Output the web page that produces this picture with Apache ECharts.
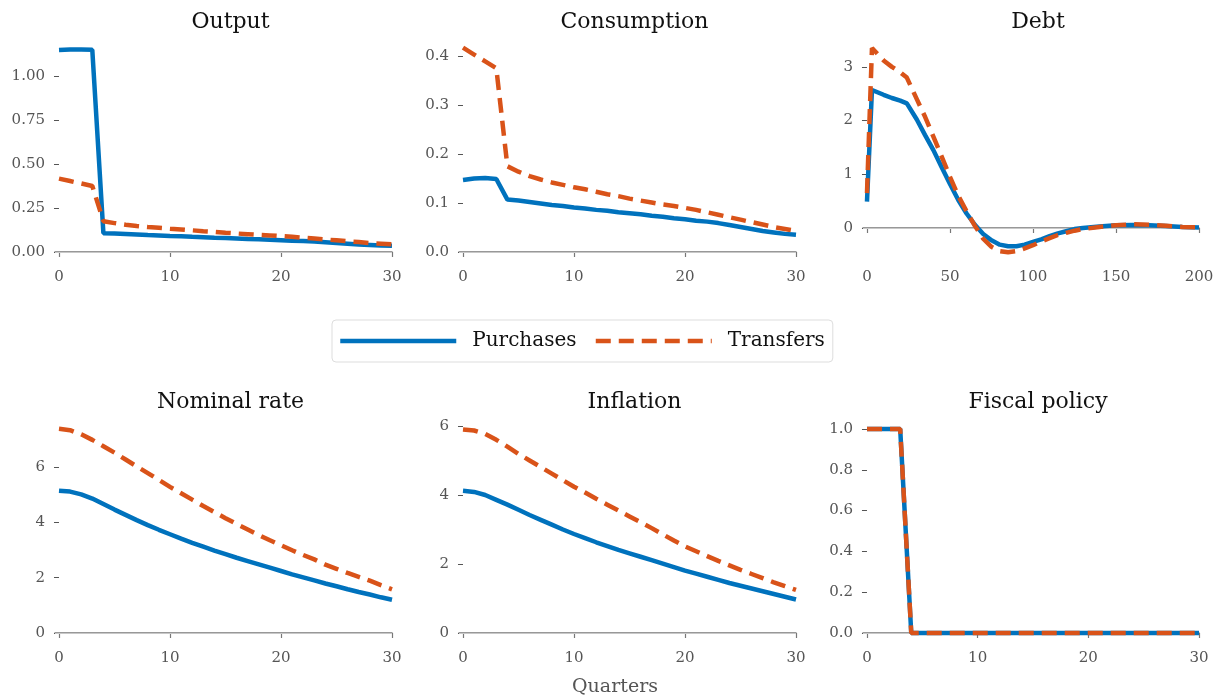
<!DOCTYPE html>
<html>
<head>
<meta charset="utf-8">
<title>Fiscal policy responses</title>
<script src="https://cdn.jsdelivr.net/npm/echarts@6/dist/echarts.min.js"></script>
<style>
  html, body { margin: 0; padding: 0; background: #fff; }
  #chart { width: 1220px; height: 697px; }
</style>
</head>
<body>
<div id="chart"></div>
<script>
// quarters on the short panels
const quarters = [0, 1, 2, 3, 4, 5, 6, 7, 8, 9, 10, 11, 12, 13, 14, 15,
  16, 17, 18, 19, 20, 21, 22, 23, 24, 25, 26, 27, 28, 29, 30];
// quarters used for the debt panel (long horizon)
const debtQuarters = [0, 3, 10, 15, 20, 24, 30, 35, 40, 45, 50, 55, 60, 65, 70, 75,
  80, 85, 90, 95, 100, 105, 110, 115, 120, 125, 130, 140, 150, 160, 170, 180, 190, 200];

const outputPurchases = [1.147, 1.150, 1.151, 1.149, 0.107, 0.105, 0.102, 0.099, 0.096, 0.094,
  0.091, 0.089, 0.086, 0.084, 0.081, 0.079, 0.077, 0.074, 0.072, 0.069,
  0.067, 0.064, 0.062, 0.059, 0.055, 0.051, 0.047, 0.043, 0.040, 0.037, 0.035];
const outputTransfers = [0.417, 0.403, 0.389, 0.375, 0.175, 0.164, 0.155, 0.148, 0.142, 0.137,
  0.132, 0.128, 0.123, 0.118, 0.114, 0.109, 0.105, 0.101, 0.097, 0.094,
  0.090, 0.086, 0.081, 0.076, 0.071, 0.066, 0.061, 0.056, 0.051, 0.047, 0.043];

const consPurchases = [0.147, 0.150, 0.151, 0.149, 0.107, 0.105, 0.102, 0.099, 0.096, 0.094,
  0.091, 0.089, 0.086, 0.084, 0.081, 0.079, 0.077, 0.074, 0.072, 0.069,
  0.067, 0.064, 0.062, 0.059, 0.055, 0.051, 0.047, 0.043, 0.040, 0.037, 0.035];
const consTransfers = [0.417, 0.403, 0.389, 0.375, 0.175, 0.164, 0.155, 0.148, 0.142, 0.137,
  0.132, 0.128, 0.123, 0.118, 0.114, 0.109, 0.105, 0.101, 0.097, 0.094,
  0.090, 0.086, 0.081, 0.076, 0.071, 0.066, 0.061, 0.056, 0.051, 0.047, 0.043];

const debtPurchases = [0.49, 2.57, 2.48, 2.42, 2.37, 2.32, 2.02, 1.73, 1.45, 1.13, 0.82, 0.52,
  0.27, 0.06, -0.11, -0.23, -0.31, -0.34, -0.34, -0.31, -0.26, -0.21, -0.15, -0.10,
  -0.06, -0.02, 0.00, 0.03, 0.05, 0.055, 0.05, 0.035, 0.02, 0.01];
const debtTransfers = [0.65, 3.35, 3.12, 3.00, 2.90, 2.80, 2.40, 2.07, 1.70, 1.33, 0.95, 0.60,
  0.31, 0.04, -0.20, -0.35, -0.43, -0.45, -0.43, -0.38, -0.32, -0.25, -0.19, -0.13,
  -0.09, -0.05, -0.02, 0.02, 0.05, 0.07, 0.06, 0.04, 0.02, 0.01];

const nominalPurchases = [5.14, 5.11, 5.01, 4.86, 4.66, 4.46, 4.27, 4.08, 3.90, 3.73,
  3.57, 3.41, 3.26, 3.12, 2.98, 2.85, 2.72, 2.60, 2.48, 2.36,
  2.24, 2.12, 2.01, 1.90, 1.79, 1.69, 1.58, 1.48, 1.39, 1.29, 1.20];
const nominalTransfers = [7.38, 7.33, 7.18, 6.98, 6.75, 6.52, 6.27, 6.02, 5.78, 5.53,
  5.28, 5.05, 4.82, 4.59, 4.37, 4.15, 3.94, 3.74, 3.54, 3.35,
  3.17, 2.99, 2.82, 2.66, 2.47, 2.32, 2.17, 2.03, 1.89, 1.73, 1.58];

const inflationPurchases = [4.12, 4.09, 4.00, 3.86, 3.72, 3.57, 3.42, 3.28, 3.14, 3.00,
  2.87, 2.75, 2.63, 2.52, 2.41, 2.31, 2.21, 2.11, 2.01, 1.91,
  1.81, 1.72, 1.63, 1.54, 1.45, 1.37, 1.29, 1.21, 1.13, 1.05, 0.97];
const inflationTransfers = [5.90, 5.87, 5.77, 5.60, 5.40, 5.19, 5.00, 4.81, 4.62, 4.43,
  4.24, 4.07, 3.89, 3.72, 3.55, 3.38, 3.21, 3.04, 2.86, 2.68,
  2.51, 2.37, 2.23, 2.09, 1.96, 1.83, 1.71, 1.59, 1.47, 1.36, 1.25];

const fiscalPurchases = [1, 1, 1, 1, 0, 0, 0, 0, 0, 0, 0, 0, 0, 0, 0, 0,
  0, 0, 0, 0, 0, 0, 0, 0, 0, 0, 0, 0, 0, 0, 0];
const fiscalTransfers = [1, 1, 1, 1, 0, 0, 0, 0, 0, 0, 0, 0, 0, 0, 0, 0,
  0, 0, 0, 0, 0, 0, 0, 0, 0, 0, 0, 0, 0, 0, 0];

// tick labels
const xTicksShort = [0, 10, 20, 30];
const xTicksDebt = [0, 50, 100, 150, 200];
const outputTicks = [0, 0.25, 0.5, 0.75, 1.0];
const consTicks = [0, 0.1, 0.2, 0.3, 0.4];
const debtTicks = [0, 1, 2, 3];
const nominalTicks = [0, 2, 4, 6];
const inflationTicks = [0, 2, 4, 6];
const fiscalTicks = [0, 0.2, 0.4, 0.6, 0.8, 1.0];

const titles = ['Output', 'Consumption', 'Debt', 'Nominal rate', 'Inflation', 'Fiscal policy'];

const BLUE = '#0072BD';
const ORANGE = '#D95319';
const FONT = 'DejaVu Serif';
const LW = 4.5;

function zip(xs, ys) {
  return xs.map((x, i) => [x, ys[i]]);
}

// panel layout: grid boxes and axis ranges
const panels = [
  { grid: { left: 55, right: 828, top: 40, bottom: 435 }, x: [-0.36, 30], y: [-0.057, 1.2045],
    xt: xTicksShort, yt: outputTicks, dec: 2, xs: quarters, p: outputPurchases, t: outputTransfers },
  { grid: { left: 459, right: 424, top: 40, bottom: 435 }, x: [-0.36, 30], y: [-0.0204, 0.4327],
    xt: xTicksShort, yt: consTicks, dec: 1, xs: quarters, p: consPurchases, t: consTransfers },
  { grid: { left: 863, right: 21, top: 40, bottom: 435 }, x: [-2.4, 200], y: [-0.633, 3.5],
    xt: xTicksDebt, yt: debtTicks, dec: 0, xs: debtQuarters, p: debtPurchases, t: debtTransfers },
  { grid: { left: 55, right: 828, top: 420, bottom: 54 }, x: [-0.36, 30], y: [-0.361, 7.698],
    xt: xTicksShort, yt: nominalTicks, dec: 0, xs: quarters, p: nominalPurchases, t: nominalTransfers },
  { grid: { left: 459, right: 424, top: 420, bottom: 54 }, x: [-0.36, 30], y: [-0.29, 6.174],
    xt: xTicksShort, yt: inflationTicks, dec: 0, xs: quarters, p: inflationPurchases, t: inflationTransfers },
  { grid: { left: 863, right: 21, top: 420, bottom: 54 }, x: [-0.36, 30], y: [-0.049, 1.044],
    xt: xTicksShort, yt: fiscalTicks, dec: 1, xs: quarters, p: fiscalPurchases, t: fiscalTransfers }
];

const chart = echarts.init(document.getElementById('chart'));

const grids = [];
const xAxes = [];
const yAxes = [];
const series = [];
const titleList = [];

panels.forEach((pn, i) => {
  grids.push(pn.grid);
  xAxes.push({
    type: 'value', gridIndex: i, min: pn.x[0], max: pn.x[1],
    axisLine: { show: true, lineStyle: { color: '#777', width: 1.5 } },
    axisTick: { show: true, length: 5, customValues: pn.xt, lineStyle: { color: '#777', width: 1.2 } },
    axisLabel: { customValues: pn.xt, margin: 8, color: '#555', fontFamily: FONT, fontSize: 15 },
    splitLine: { show: false }
  });
  yAxes.push({
    type: 'value', gridIndex: i, min: pn.y[0], max: pn.y[1],
    axisLine: { show: false },
    axisTick: { show: true, length: 5, customValues: pn.yt, lineStyle: { color: '#555', width: 1 } },
    axisLabel: {
      customValues: pn.yt, margin: 10, color: '#555', fontFamily: FONT, fontSize: 15,
      formatter: v => v.toFixed(pn.dec)
    },
    splitLine: { show: false }
  });
  series.push({
    name: 'Purchases', type: 'line', xAxisIndex: i, yAxisIndex: i,
    data: zip(pn.xs, pn.p), symbol: 'none', clip: false, z: 3,
    lineStyle: { color: BLUE, width: LW }, itemStyle: { color: BLUE },
    markLine: {
      silent: true, symbol: 'none', label: { show: false },
      lineStyle: { color: '#c8c8c8', width: 1, type: 'solid' },
      data: [{ yAxis: 0 }], z: 1
    }
  });
  series.push({
    name: 'Transfers', type: 'line', xAxisIndex: i, yAxisIndex: i,
    data: zip(pn.xs, pn.t), symbol: 'none', clip: false, z: 4,
    lineStyle: { color: ORANGE, width: LW, type: [15, 8] }, itemStyle: { color: ORANGE }
  });
  const cx = pn.grid.left + (1220 - pn.grid.left - pn.grid.right) / 2 + 2;
  titleList.push({
    text: titles[i], left: cx, top: i < 3 ? 6 : 386, textAlign: 'center',
    textStyle: { fontFamily: FONT, fontSize: 22, fontWeight: 'normal', color: '#111' }
  });
});

titleList.push({
  text: 'Quarters', left: 610, top: 673, textAlign: 'center',
  textStyle: { fontFamily: FONT, fontSize: 19, fontWeight: 'normal', color: '#555' }
});

chart.setOption({
  animation: false,
  backgroundColor: '#fff',
  title: titleList,
  legend: {
    data: ['Purchases', 'Transfers'],
    left: 332, top: 320,
    orient: 'horizontal',
    itemWidth: 116, itemHeight: 14, itemGap: 17,
    padding: [11, 8, 11, 6],
    borderColor: '#ddd', borderWidth: 1, borderRadius: 4,
    itemStyle: { opacity: 0 },
    lineStyle: { width: LW },
    textStyle: { fontFamily: FONT, fontSize: 20, color: '#111', padding: [0, 0, 0, 11] }
  },
  grid: grids,
  xAxis: xAxes,
  yAxis: yAxes,
  series: series
});
</script>
</body>
</html>
